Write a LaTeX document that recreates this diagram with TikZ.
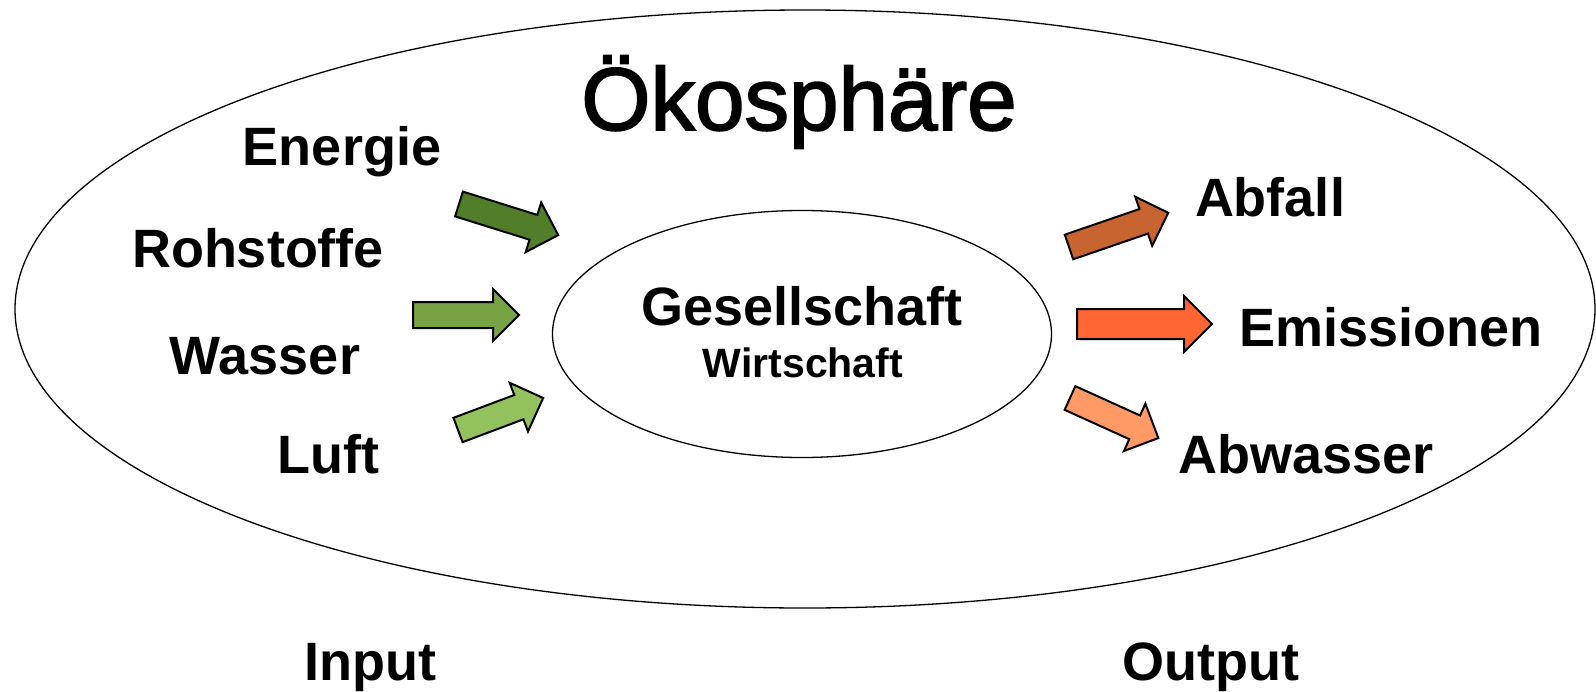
\documentclass[tikz,border=0pt]{standalone}
\usepackage{fontspec}
\setmainfont{Liberation Sans}
\newfontfamily\titelfont[FakeBold=2]{Liberation Sans}
\usepackage{tikz}
\usetikzlibrary{shapes.arrows,shapes.geometric}

\definecolor{gruenA}{HTML}{527E2A}
\definecolor{gruenB}{HTML}{77A345}
\definecolor{gruenC}{HTML}{93C15E}
\definecolor{orangeA}{HTML}{C8642F}
\definecolor{orangeB}{HTML}{FF6633}
\definecolor{orangeC}{HTML}{FF9A66}

\begin{document}
\begin{tikzpicture}[x=1pt,y=-1pt,
begriff/.style={font=\bfseries\fontsize{54}{60}\selectfont, inner sep=0pt, anchor=base},
pfeil/.style={single arrow, draw=black, line width=2pt, fill=#1, inner xsep=0pt, inner ysep=12pt, outer sep=0pt,
  single arrow head extend=13pt, single arrow tip angle=90, anchor=tail}]

\useasboundingbox (0,0) rectangle (1596,691);

% Spheres
\draw[line width=1.3pt] (805,309) ellipse [x radius=790, y radius=299];
\node[ellipse, draw, line width=1.3pt, minimum width=499pt, minimum height=247pt] (kern) at (802,334) {};

\node[anchor=base, inner sep=0pt, font=\titelfont\fontsize{89}{94}\selectfont] (oeko) at (799,130) {Ökosphäre};
\node[begriff] (gesellschaft) at (802,325) {Gesellschaft};
\node[begriff, font=\bfseries\fontsize{41}{46}\selectfont] (wirtschaft) at (803,377) {Wirtschaft};

% Input
\node[begriff] (energie)   at (342,165) {Energie};
\node[begriff] (rohstoffe) at (258,267) {Rohstoffe};
\node[begriff] (wasser)    at (265,374) {Wasser};
\node[begriff] (luft)      at (328,473) {Luft};

\node[pfeil=gruenA, minimum height=104pt, rotate=-17.4] (in-energie) at (459,204) {};
\node[pfeil=gruenB, minimum height=106pt] (in-wasser) at (413,315) {};
\node[pfeil=gruenC, minimum height=91pt, rotate=20.6] (in-luft) at (458,430) {};

% Output
\node[pfeil=orangeA, minimum height=105pt, rotate=19] (out-abfall) at (1069,247) {};
\node[pfeil=orangeB, minimum height=135pt, inner ysep=14pt] (out-emission) at (1077,324) {};
\node[pfeil=orangeC, minimum height=97pt, rotate=-24.4] (out-abwasser) at (1070,398) {};

\node[begriff] (abfall)    at (1270,216) {Abfall};
\node[begriff] (emission)  at (1391,346) {Emissionen};
\node[begriff] (abwasser)  at (1306,473) {Abwasser};

\node[begriff] (input)  at (370,680) {Input};
\node[begriff] (output) at (1211,680) {Output};
\end{tikzpicture}
\end{document}
